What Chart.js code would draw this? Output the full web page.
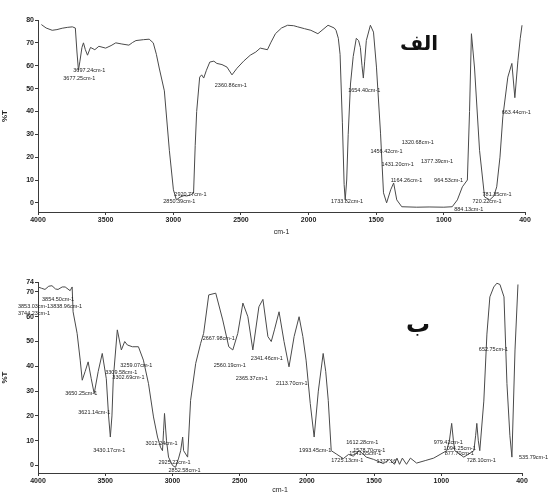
<!DOCTYPE html>
<html>
<head>
<meta charset="utf-8">
<script src="https://cdn.jsdelivr.net/npm/chart.js@4/dist/chart.umd.min.js"></script>
<style>
  body { margin: 0; background: #fff; width: 555px; height: 496px; position: relative; overflow: hidden; }
  .panel { position: absolute; left: 0; width: 555px; }
  #top-panel { top: 0; height: 250px; }
  #bottom-panel { top: 250px; height: 246px; }
  .tag { position: absolute; font-family: "DejaVu Sans", sans-serif; font-weight: bold; color: #111; direction: rtl; line-height: 1; }
</style>
</head>
<body>
<div class="panel" id="top-panel"><canvas id="chart-top" width="555" height="250"></canvas></div>
<div class="panel" id="bottom-panel"><canvas id="chart-bottom" width="555" height="246"></canvas></div>
<div class="tag" style="left:400px; top:33px; font-size:20px;">الف</div>
<div class="tag" style="left:406px; top:312px; font-size:24px;">ب</div>
<script>
const WAVENUMBER_TICKS = [4000, 3500, 3000, 2500, 2000, 1500, 1000, 400];
const TOP_T_TICKS = [0, 10, 20, 30, 40, 50, 60, 70, 80];
const BOTTOM_T_TICKS = [0, 10, 20, 30, 40, 50, 60, 70, 74];

// spectrum (الف)
const TOP_WN = [3975, 3940, 3895, 3860, 3821, 3780, 3746, 3724, 3712, 3701, 3690, 3675, 3664, 3650, 3634, 3612, 3580, 3550, 3500, 3460, 3425, 3380, 3328, 3300, 3276, 3220, 3178, 3148, 3125, 3104, 3066, 3029, 2999, 2977, 2950, 2920, 2902, 2870, 2850, 2838, 2827, 2805, 2790, 2775, 2755, 2730, 2700, 2678, 2640, 2603, 2566, 2529, 2480, 2431, 2390, 2357, 2304, 2280, 2245, 2200, 2155, 2110, 2080, 2030, 1983, 1931, 1856, 1810, 1797, 1780, 1767, 1750, 1737, 1729, 1718, 1707, 1690, 1670, 1647, 1630, 1617, 1605, 1595, 1585, 1573, 1543, 1520, 1498, 1468, 1446, 1423, 1393, 1371, 1348, 1311, 1200, 1109, 1000, 938, 900, 863, 826, 810, 796, 773, 736, 699, 661, 630, 609, 585, 564, 527, 497, 475, 452, 435, 422];
const TOP_T = [78, 76.5, 75.5, 75.8, 76.4, 76.8, 77, 76.5, 66, 58, 62, 68, 70, 67, 64.6, 68, 67, 68.5, 67.7, 68.8, 70, 69.5, 69, 70.2, 71, 71.4, 71.6, 70, 65, 59, 49, 23, 5.7, 1.3, 2.5, 3.2, 3, 3.5, 4.4, 25, 40, 55, 56, 54.6, 58, 61.6, 62, 61, 60.5, 59.4, 56, 58.9, 62, 64.6, 66, 67.7, 67, 70, 74, 76.5, 77.7, 77.5, 77, 76.2, 75.5, 74, 77.7, 76.5, 75.5, 72, 65, 35, 8, 1.3, 10, 30, 52, 64, 72, 71, 68, 60, 54.6, 62, 71, 77.7, 74.7, 59.4, 30.5, 4.4, 0, 5.7, 8.7, 1.3, -1.7, -1.9, -1.8, -1.9, -1.7, 1.3, 7, 10, 40, 74, 59, 23, 2.6, 1.3, 3, 7, 20, 37.6, 55, 61, 46, 62.4, 72, 77.7];

// spectrum (ب)
const BOTTOM_WN = [4000, 3975, 3948, 3920, 3896, 3870, 3851, 3820, 3798, 3761, 3746, 3739, 3709, 3686, 3671, 3649, 3627, 3604, 3582, 3552, 3522, 3492, 3475, 3462, 3450, 3440, 3410, 3380, 3355, 3335, 3298, 3253, 3216, 3178, 3141, 3111, 3089, 3074, 3066, 3059, 3044, 3029, 2999, 2977, 2954, 2939, 2924, 2917, 2887, 2865, 2827, 2790, 2768, 2730, 2678, 2626, 2581, 2551, 2514, 2476, 2439, 2402, 2357, 2327, 2290, 2265, 2240, 2207, 2170, 2133, 2095, 2058, 2030, 2006, 1975, 1946, 1915, 1879, 1860, 1841, 1819, 1782, 1729, 1690, 1655, 1610, 1558, 1505, 1431, 1386, 1349, 1330, 1311, 1290, 1259, 1230, 1184, 1120, 1057, 960, 940, 923, 910, 900, 833, 758, 745, 736, 725, 714, 684, 661, 639, 610, 587, 564, 534, 512, 490, 475, 452, 430];
const BOTTOM_T = [72, 71.5, 71, 72.3, 72.5, 71.2, 71, 72, 72, 70.5, 72, 62, 53.3, 42.5, 34.4, 38, 41.8, 35, 29, 38, 45.2, 35, 20, 11.5, 20, 35, 54.7, 46.6, 50, 48.6, 47.9, 47.9, 42.5, 33, 19.6, 11.5, 7.4, 6, 14, 21, 10, 3.4, 0, -0.7, 3, 6, 11.5, 6, 3.4, 26.3, 41.2, 49.3, 53.3, 68.8, 69.5, 58.7, 47.9, 46.6, 53.3, 65.5, 60, 46.6, 64, 67, 52, 50, 55, 62, 50, 39.8, 52, 60, 52, 42.5, 25, 11.5, 30, 45.2, 38, 26.3, 6, 4.7, 2.8, 4.5, 3.8, 6, 3.4, 2.5, 0.8, 2.5, 0.5, 3, 0.5, 3, 0.5, 3, 1, 2, 3, 6, 10, 17, 10, 6, 3.4, 6, 12, 17, 10, 6, 26, 53, 68, 72, 73.5, 73, 68, 33, 12, 3.4, 46.6, 73];

// peak labels
const TOP_PEAK_TEXT = ['3697.24cm-1', '3677.25cm-1', '2920.77cm-1', '2850.39cm-1', '2360.86cm-1', '1654.40cm-1', '1733.82cm-1', '1320.68cm-1', '1456.42cm-1', '1377.39cm-1', '1431.20cm-1', '1164.26cm-1', '964.53cm-1', '663.44cm-1', '781.35cm-1', '720.22cm-1', '884.13cm-1'];
const TOP_PEAK_WN = [3739, 3813, 2992, 3074, 2693, 1707, 1834, 1311, 1543, 1169, 1460, 1393, 1072, 572, 714, 788, 923];
const TOP_PEAK_T = [58.1, 54.6, 3.5, 0.4, 51.5, 49.3, 0.4, 26.2, 22.3, 17.9, 16.6, 10, 10, 39.7, 3.5, 0.4, -3.1];

const BOTTOM_PEAK_TEXT = ['3854.50cm-1', '3853.03cm-13838.96cm-1', '3744.23cm-1', '3650.25cm-1', '3621.14cm-1', '3430.17cm-1', '3259.07cm-1', '3309.58cm-1', '3302.69cm-1', '3012.24cm-1', '2925.22cm-1', '2852.58cm-1', '2667.98cm-1', '2560.19cm-1', '2341.46cm-1', '2365.37cm-1', '2113.70cm-1', '1993.45cm-1', '1612.28cm-1', '1578.70cm-1', '1541.65cm-1', '1725.13cm-1', '1377.16', '979.42cm-1', '1094.25cm-1', '877.70cm-1', '728.10cm-1', '652.75cm-1', '535.79cm-1'];
const BOTTOM_PEAK_WN = [3970, 4149, 4149, 3798, 3701, 3589, 3388, 3500, 3447, 3201, 3104, 3029, 2775, 2693, 2417, 2529, 2230, 2058, 1707, 1655, 1685, 1819, 1483, 1057, 983, 975, 811, 721, 422];
const BOTTOM_PEAK_T = [66.8, 64, 61.5, 29.1, 21.5, 6.1, 40.5, 37.7, 35.6, 8.9, 1.2, -2, 51.4, 40.5, 43.3, 35.2, 33.2, 6.1, 9.3, 6.1, 4.9, 2, 1.6, 9.3, 6.9, 4.9, 2, 46.6, 3.2];

const INK = '#3a3a3a';

const peakLabels = {
  id: 'peakLabels',
  afterDatasetsDraw(chart, args, opts) {
    const { ctx, scales: { x, y } } = chart;
    ctx.save();
    ctx.font = '5.5px "Liberation Sans", sans-serif';
    ctx.fillStyle = '#222';
    ctx.textAlign = 'left';
    ctx.textBaseline = 'middle';
    opts.text.forEach((t, i) => {
      ctx.fillText(t, x.getPixelForValue(opts.wn[i]), y.getPixelForValue(opts.t[i]));
    });
    ctx.restore();
  },
};

function spectrumChart(id, wn, t, yMin, yMax, yTicks, peaks, pad, xAxisHeight) {
  return new Chart(document.getElementById(id), {
    type: 'scatter',
    data: {
      datasets: [{
        data: wn.map((w, i) => ({ x: w, y: t[i] })),
        showLine: true,
        borderColor: '#4a4a4a',
        borderWidth: 1,
        pointRadius: 0,
        tension: 0,
      }],
    },
    options: {
      responsive: false,
      animation: false,
      layout: { padding: pad },
      plugins: {
        legend: { display: false },
        tooltip: { enabled: false },
        peakLabels: peaks,
      },
      scales: {
        x: {
          type: 'linear',
          reverse: true,
          min: 400,
          max: 4000,
          afterBuildTicks: (s) => { s.ticks = WAVENUMBER_TICKS.map((v) => ({ value: v })); },
          afterFit: (s) => { s.height = xAxisHeight; },
          ticks: { color: '#222', font: { family: 'Liberation Sans', size: 7, weight: 'bold' }, padding: 1, maxRotation: 0, autoSkip: false, callback: (v) => String(v) },
          grid: { drawOnChartArea: false, tickLength: 3, color: INK },
          border: { color: INK, width: 1 },
          title: { display: true, text: 'cm-1', color: '#222', font: { family: 'Liberation Sans', size: 7 }, padding: { top: 2, bottom: 0 } },
        },
        y: {
          min: yMin,
          max: yMax,
          afterBuildTicks: (s) => { s.ticks = yTicks.map((v) => ({ value: v })); },
          afterFit: (s) => { s.width = 38; },
          ticks: { color: '#222', font: { family: 'Liberation Sans', size: 7, weight: 'bold' }, padding: 1, callback: (v) => String(v) },
          grid: { drawOnChartArea: false, tickLength: 3, color: INK },
          border: { color: INK, width: 1 },
          title: { display: true, text: '%T', color: '#222', font: { family: 'Liberation Sans', size: 8, weight: 'bold' }, padding: { top: 0, bottom: 4 } },
        },
      },
    },
    plugins: [peakLabels],
  });
}

spectrumChart('chart-top', TOP_WN, TOP_T, -4, 80, TOP_T_TICKS,
  { text: TOP_PEAK_TEXT, wn: TOP_PEAK_WN, t: TOP_PEAK_T },
  { top: 20, right: 30, bottom: 14, left: 0 }, 24);

spectrumChart('chart-bottom', BOTTOM_WN, BOTTOM_T, -3, 74, BOTTOM_T_TICKS,
  { text: BOTTOM_PEAK_TEXT, wn: BOTTOM_PEAK_WN, t: BOTTOM_PEAK_T },
  { top: 32, right: 33, bottom: 2, left: 0 }, 21);
</script>
</body>
</html>
